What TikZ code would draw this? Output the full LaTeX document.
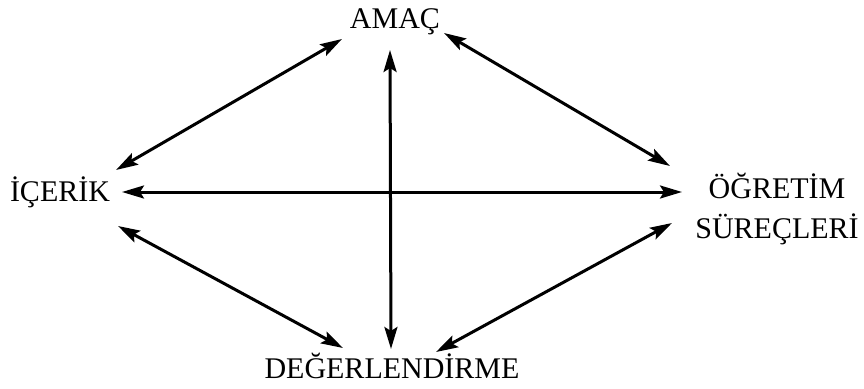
\documentclass[tikz,border=0pt]{standalone}
\usepackage{fontspec}
\setmainfont{Liberation Serif}
\usetikzlibrary{arrows.meta}
\begin{document}
\begin{tikzpicture}[x=1pt,y=-1pt,
  lbl/.style={inner sep=0pt, font=\fontsize{30}{40}\selectfont, align=center},
  link/.style={line width=3pt, {Stealth[length=22pt,width=13pt,inset=4pt]}-{Stealth[length=22pt,width=13pt,inset=4pt]}}]
\useasboundingbox (0,0) rectangle (864,388);
\node[lbl] (amac) at (395,22) {AMAÇ};
\node[lbl] (icerik) at (60,192) {İÇERİK};
\node[lbl] (ogretim) at (777,209) {ÖĞRETİM\\SÜREÇLERİ};
\node[lbl] (deger) at (392,366) {DEĞERLENDİRME};
\coordinate (ia) at (116,170);
\coordinate (ai) at (342,39);
\coordinate (ao) at (444,33);
\coordinate (oa) at (670,166);
\coordinate (ih) at (122,192);
\coordinate (oh) at (682,192);
\coordinate (av) at (390,50);
\coordinate (dv) at (391,349);
\coordinate (id) at (118,226);
\coordinate (di) at (343,348);
\coordinate (od) at (672,223);
\coordinate (do) at (436,352);
\draw[link] (ia) -- (ai);
\draw[link] (ao) -- (oa);
\draw[link] (ih) -- (oh);
\draw[link] (av) -- (dv);
\draw[link] (id) -- (di);
\draw[link] (od) -- (do);
\end{tikzpicture}
\end{document}
